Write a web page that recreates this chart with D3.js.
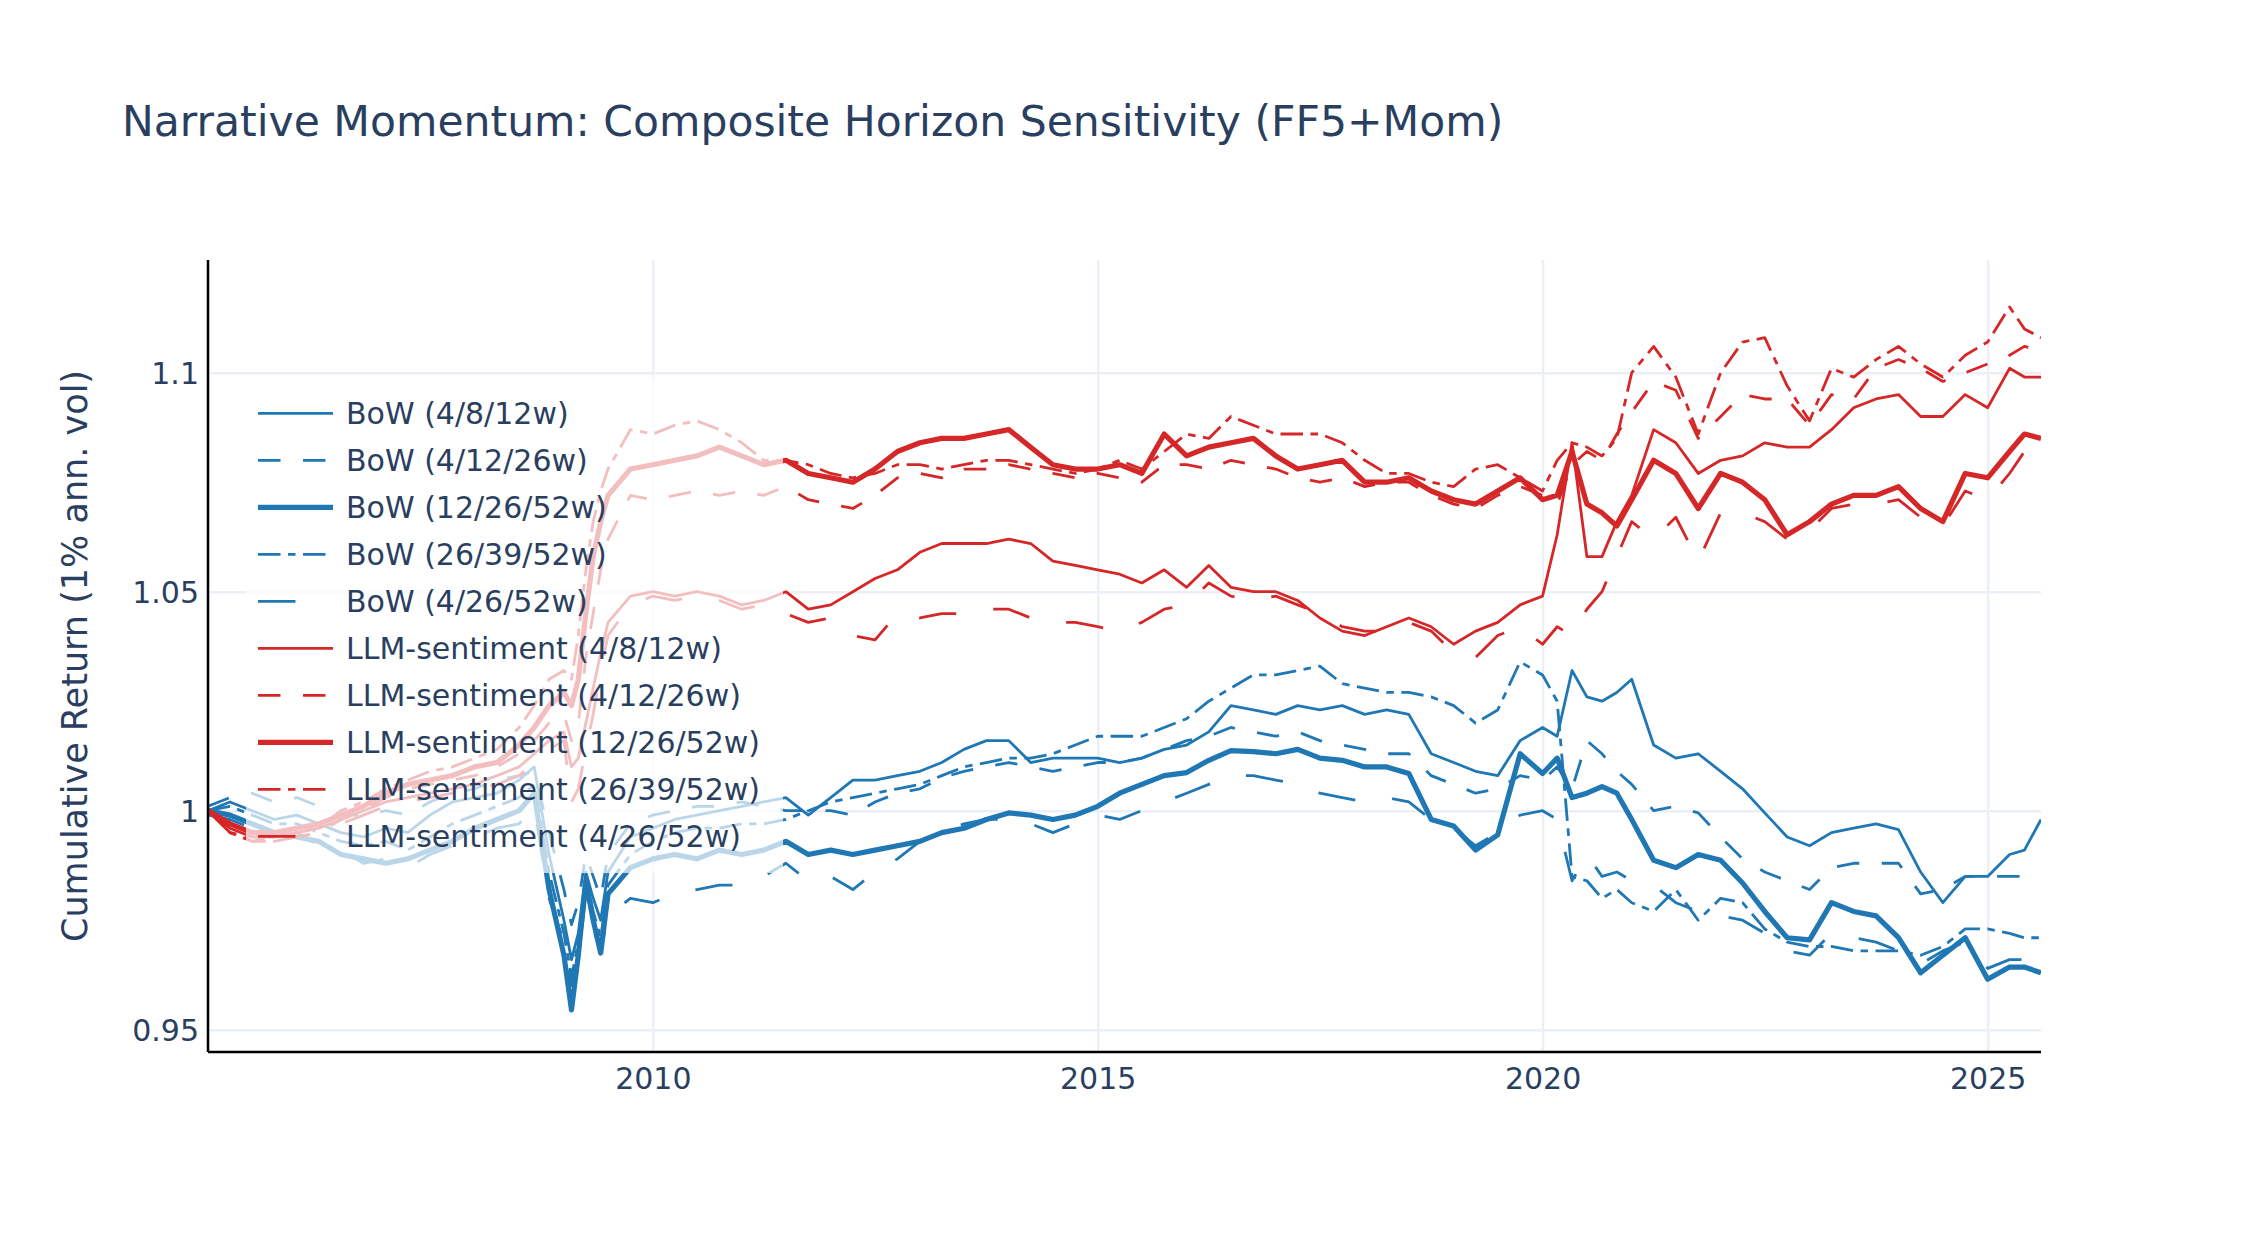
<!DOCTYPE html>
<html>
<head>
<meta charset="utf-8">
<script src="https://cdn.jsdelivr.net/npm/d3@7"></script>
<style>
  body { margin: 0; background: #fff; }
  svg { display: block; }
  text { font-family: "DejaVu Sans", Verdana, sans-serif; fill: #2a3f5f; }
</style>
</head>
<body>
<svg id="chart"></svg>
<script>
// Dates of the sampled points (roughly quarterly, denser around 2008-09 and 2020)
const dates = [
  "2005-01-01","2005-04-01","2005-07-01","2005-10-01","2006-01-01","2006-04-01","2006-07-01","2006-10-01",
  "2007-01-01","2007-04-01","2007-07-01","2007-10-01","2008-01-01","2008-04-01","2008-07-01",
  "2008-09-01","2008-11-01","2009-01-01","2009-02-01","2009-03-01","2009-04-01","2009-05-01","2009-06-01","2009-07-01","2009-10-01",
  "2010-01-01","2010-04-01","2010-07-01","2010-10-01","2011-01-01","2011-04-01","2011-07-01","2011-10-01",
  "2012-01-01","2012-04-01","2012-07-01","2012-10-01","2013-01-01","2013-04-01","2013-07-01","2013-10-01",
  "2014-01-01","2014-04-01","2014-07-01","2014-10-01",
  "2015-01-01","2015-04-01","2015-07-01","2015-10-01","2016-01-01","2016-04-01","2016-07-01","2016-10-01",
  "2017-01-01","2017-04-01","2017-07-01","2017-10-01","2018-01-01","2018-04-01","2018-07-01","2018-10-01",
  "2019-01-01","2019-04-01","2019-07-01","2019-10-01",
  "2020-01-01","2020-03-01","2020-05-01","2020-07-01","2020-09-01","2020-11-01","2021-01-01",
  "2021-04-01","2021-07-01","2021-10-01","2022-01-01","2022-04-01","2022-07-01","2022-10-01",
  "2023-01-01","2023-04-01","2023-07-01","2023-10-01","2024-01-01","2024-04-01","2024-07-01","2024-10-01",
  "2025-01-01","2025-04-01","2025-06-01","2025-08-08"
];

// BoW composites
const bow_4_8_12 = [
  1.000,1.002,1.000,0.998,0.999,0.997,0.995,0.994,0.996,0.995,0.999,1.002,1.003,1.004,1.007,
  1.010,0.990,0.975,0.966,0.972,0.986,0.980,0.975,0.986,0.994,
  0.996,0.998,0.999,1.000,1.001,1.002,1.003,0.999,
  1.003,1.007,1.007,1.008,1.009,1.011,1.014,1.016,1.016,1.011,1.012,1.012,
  1.012,1.011,1.012,1.014,1.015,1.018,1.024,1.023,1.022,1.024,1.023,1.024,1.022,1.023,1.022,1.013,1.011,1.009,1.008,1.016,
  1.019,1.017,1.032,1.026,1.025,1.027,1.030,
  1.015,1.012,1.013,1.009,1.005,0.9995,0.994,0.992,0.995,0.996,0.997,0.9957,0.986,0.979,0.985,0.985,0.990,0.991,0.998
];
const bow_4_12_26 = [
  1.001,1.003,1.004,1.002,1.003,1.001,0.999,0.999,1.000,0.999,1.002,1.004,1.005,1.007,1.008,
  1.009,0.995,0.982,0.974,0.979,0.990,0.985,0.980,0.990,0.997,
  0.999,1.000,1.001,1.001,1.002,1.001,1.000,1.000,
  1.000,0.999,1.002,1.004,1.005,1.0075,1.009,1.010,1.011,1.010,1.009,1.010,
  1.011,1.011,1.012,1.014,1.016,1.017,1.019,1.018,1.017,1.018,1.016,1.015,1.014,1.013,1.013,1.008,1.006,1.004,1.005,1.008,
  1.007,1.010,1.005,1.016,1.013,1.009,1.006,
  1.000,1.001,0.9995,0.994,0.989,0.986,0.984,0.982,0.987,0.988,0.988,0.988,0.981,0.982,0.985,0.985,0.985,0.985,0.985
];
const bow_12_26_52 = [
  1.000,0.999,0.997,0.995,0.994,0.993,0.990,0.989,0.988,0.989,0.991,0.993,0.996,0.998,1.000,
  1.004,0.982,0.967,0.9545,0.967,0.984,0.975,0.9675,0.981,0.987,
  0.989,0.990,0.989,0.991,0.990,0.991,0.993,0.990,
  0.991,0.990,0.991,0.992,0.993,0.995,0.996,0.998,0.9995,0.999,0.998,0.999,
  1.001,1.004,1.006,1.008,1.0087,1.0115,1.0137,1.0135,1.013,1.014,1.012,1.0115,1.010,1.010,1.0085,0.998,0.9965,0.991,0.9945,1.013,
  1.0085,1.012,1.003,1.004,1.0055,1.004,0.998,
  0.9887,0.987,0.990,0.9887,0.9835,0.977,0.971,0.9705,0.979,0.977,0.976,0.971,0.963,0.967,0.971,0.9615,0.9643,0.9643,0.963
];
const bow_26_39_52 = [
  1.000,1.001,0.999,0.997,0.997,0.995,0.993,0.992,0.993,0.991,0.994,0.997,0.999,1.001,1.003,
  1.006,0.986,0.972,0.962,0.970,0.985,0.977,0.971,0.983,0.990,
  0.993,0.995,0.996,0.996,0.997,0.997,0.998,1.000,
  1.002,1.003,1.004,1.005,1.006,1.008,1.010,1.011,1.012,1.012,1.013,1.015,
  1.017,1.017,1.017,1.019,1.021,1.025,1.028,1.031,1.031,1.032,1.033,1.029,1.028,1.027,1.027,1.026,1.024,1.020,1.023,1.034,
  1.031,1.025,0.985,0.984,0.980,0.982,0.979,
  0.977,0.982,0.975,0.980,0.979,0.973,0.970,0.969,0.969,0.968,0.968,0.968,0.967,0.969,0.973,0.973,0.972,0.971,0.971
];
const bow_4_26_52 = [
  0.999,0.998,0.996,0.994,0.995,0.992,0.991,0.988,0.989,0.987,0.990,0.992,0.994,0.996,0.997,
  1.001,0.980,0.970,0.960,0.966,0.981,0.973,0.968,0.976,0.980,
  0.979,0.981,0.982,0.983,0.983,0.985,0.988,0.984,
  0.985,0.982,0.986,0.989,0.993,0.995,0.997,0.998,0.998,0.997,0.995,0.997,
  0.999,0.998,1.000,1.002,1.004,1.006,1.008,1.008,1.007,1.006,1.004,1.003,1.002,1.003,1.002,0.998,0.996,0.992,0.995,0.999,
  1.000,0.998,0.984,0.990,0.985,0.986,0.984,
  0.983,0.979,0.977,0.976,0.975,0.972,0.968,0.967,0.972,0.971,0.970,0.968,0.965,0.968,0.970,0.964,0.966,0.966,0.965
];

// LLM-sentiment composites
const llm_4_8_12 = [
  1.000,0.996,0.994,0.994,0.995,0.996,0.998,1.000,1.002,1.003,1.004,1.005,1.006,1.008,1.010,
  1.013,1.016,1.018,1.010,1.012,1.020,1.028,1.036,1.043,1.049,
  1.050,1.049,1.050,1.049,1.047,1.048,1.050,1.046,
  1.047,1.050,1.053,1.055,1.059,1.061,1.061,1.061,1.062,1.061,1.057,1.056,
  1.055,1.054,1.052,1.055,1.051,1.056,1.051,1.050,1.050,1.048,1.044,1.041,1.040,1.042,1.044,1.042,1.038,1.041,1.043,1.047,
  1.049,1.063,1.084,1.058,1.058,1.066,1.072,
  1.087,1.084,1.077,1.080,1.081,1.084,1.083,1.083,1.087,1.092,1.094,1.095,1.090,1.090,1.095,1.092,1.101,1.099,1.099
];
const llm_4_12_26 = [
  1.000,0.996,0.993,0.993,0.994,0.995,0.998,1.000,1.003,1.005,1.006,1.007,1.008,1.010,1.013,
  1.016,1.020,1.022,1.016,1.020,1.035,1.045,1.055,1.062,1.072,
  1.071,1.072,1.073,1.072,1.073,1.072,1.074,1.071,
  1.070,1.069,1.072,1.076,1.077,1.076,1.078,1.078,1.079,1.078,1.077,1.076,
  1.077,1.076,1.075,1.079,1.079,1.078,1.080,1.079,1.078,1.076,1.075,1.076,1.074,1.075,1.075,1.072,1.070,1.069,1.072,1.074,
  1.072,1.070,1.079,1.082,1.080,1.086,1.091,
  1.098,1.096,1.085,1.090,1.095,1.094,1.094,1.088,1.095,1.094,1.101,1.103,1.101,1.098,1.100,1.102,1.104,1.106,1.105
];
const llm_12_26_52 = [
  1.000,0.997,0.995,0.995,0.996,0.997,0.999,1.001,1.004,1.006,1.007,1.008,1.010,1.011,1.015,
  1.019,1.024,1.027,1.024,1.030,1.045,1.058,1.066,1.072,1.078,
  1.079,1.080,1.081,1.083,1.081,1.079,1.080,1.077,
  1.076,1.075,1.078,1.082,1.084,1.085,1.085,1.086,1.087,1.083,1.079,1.078,
  1.078,1.079,1.077,1.086,1.081,1.083,1.084,1.085,1.081,1.078,1.079,1.080,1.075,1.075,1.076,1.073,1.071,1.070,1.073,1.076,
  1.071,1.072,1.082,1.070,1.068,1.065,1.071,
  1.080,1.077,1.069,1.077,1.075,1.071,1.063,1.066,1.070,1.072,1.072,1.074,1.069,1.066,1.077,1.076,1.082,1.086,1.085
];
const llm_26_39_52 = [
  1.000,0.995,0.993,0.994,0.995,0.996,1.000,1.002,1.005,1.007,1.009,1.010,1.012,1.014,1.019,
  1.024,1.030,1.032,1.030,1.040,1.055,1.066,1.073,1.078,1.087,
  1.086,1.088,1.089,1.087,1.084,1.080,1.080,1.079,
  1.077,1.076,1.077,1.079,1.079,1.078,1.079,1.080,1.080,1.079,1.078,1.077,
  1.078,1.080,1.078,1.082,1.086,1.085,1.090,1.088,1.086,1.086,1.086,1.084,1.080,1.077,1.077,1.075,1.074,1.078,1.079,1.076,
  1.073,1.080,1.084,1.083,1.081,1.085,1.100,
  1.106,1.099,1.086,1.100,1.107,1.108,1.097,1.089,1.101,1.099,1.103,1.106,1.102,1.099,1.104,1.107,1.115,1.110,1.108
];
const llm_4_26_52 = [
  1.000,0.995,0.994,0.993,0.994,0.995,0.997,0.999,1.001,1.002,1.003,1.004,1.005,1.006,1.008,
  1.011,1.014,1.016,1.002,1.005,1.014,1.022,1.032,1.040,1.047,
  1.049,1.048,1.049,1.048,1.046,1.047,1.045,1.043,
  1.044,1.040,1.039,1.045,1.044,1.045,1.045,1.046,1.046,1.044,1.043,1.043,
  1.042,1.041,1.043,1.046,1.047,1.052,1.049,1.048,1.049,1.047,1.045,1.042,1.041,1.041,1.043,1.041,1.036,1.035,1.040,1.042,
  1.038,1.042,1.040,1.046,1.050,1.058,1.066,
  1.062,1.067,1.057,1.068,1.068,1.066,1.062,1.064,1.069,1.070,1.070,1.071,1.067,1.065,1.073,1.071,1.077,1.082,1.084
];

const seriesNames = [
  "BoW (4/8/12w)", "BoW (4/12/26w)", "BoW (12/26/52w)", "BoW (26/39/52w)", "BoW (4/26/52w)",
  "LLM-sentiment (4/8/12w)", "LLM-sentiment (4/12/26w)", "LLM-sentiment (12/26/52w)",
  "LLM-sentiment (26/39/52w)", "LLM-sentiment (4/26/52w)"
];
const seriesValues = [
  bow_4_8_12, bow_4_12_26, bow_12_26_52, bow_26_39_52, bow_4_26_52,
  llm_4_8_12, llm_4_12_26, llm_12_26_52, llm_26_39_52, llm_4_26_52
];
const yTickValues = [0.95, 1, 1.05, 1.1];
const xTickYears = ["2010", "2015", "2020", "2025"];

// line styles: solid, dash, thick solid, dashdot, longdash
const dashStyles = [null, "22.5,22.5", null, "22.5,7.5,7.5,7.5", "37.5,37.5"];
const widths = [2.8, 2.8, 5.2, 2.8, 2.8];
const BLUE = "#1f77b4", RED = "#d62728";

const W = 2250, H = 1250;
const margin = { top: 260, right: 209, bottom: 198, left: 208 };
const width = W - margin.left - margin.right;
const height = H - margin.top - margin.bottom;

const parseDate = d3.timeParse("%Y-%m-%d");
const dateObjs = dates.map(parseDate);

const svg = d3.select("#chart").attr("width", W).attr("height", H);
svg.append("rect").attr("width", W).attr("height", H).attr("fill", "#fff");

// Title
svg.append("text")
  .attr("x", 122).attr("y", 136)
  .attr("font-size", "42.5px")
  .text("Narrative Momentum: Composite Horizon Sensitivity (FF5+Mom)");

const g = svg.append("g").attr("transform", `translate(${margin.left}, ${margin.top})`);

// Scales
const xScale = d3.scaleTime()
  .domain([dateObjs[0], dateObjs[dateObjs.length - 1]])
  .range([0, width]);
const yScale = d3.scaleLinear()
  .domain([0.94491, 1.12573])
  .range([height, 0]);

// Gridlines
const xTickDates = xTickYears.map(y => parseDate(y + "-01-01"));
const xGrid = g.append("g")
  .attr("transform", `translate(0, ${height})`)
  .call(d3.axisBottom(xScale).tickValues(xTickDates).tickSize(-height).tickFormat(""));
xGrid.select(".domain").remove();
xGrid.selectAll("line").attr("stroke", "#ebf0f8").attr("stroke-width", 2.5);

const yGrid = g.append("g")
  .call(d3.axisLeft(yScale).tickValues(yTickValues).tickSize(-width).tickFormat(""));
yGrid.select(".domain").remove();
yGrid.selectAll("line").attr("stroke", "#ebf0f8").attr("stroke-width", 2.5);

// Clip
svg.append("defs").append("clipPath").attr("id", "plotClip")
  .append("rect").attr("width", width).attr("height", height);

const line = d3.line()
  .x(d => xScale(d.date))
  .y(d => yScale(d.value));

const traces = seriesNames.map((name, i) => ({
  name: name,
  color: i < 5 ? BLUE : RED,
  width: widths[i % 5],
  dash: dashStyles[i % 5],
  points: seriesValues[i].map((v, j) => ({ date: dateObjs[j], value: v }))
}));

const linesG = g.append("g").attr("clip-path", "url(#plotClip)");
linesG.selectAll("path")
  .data(traces)
  .enter()
  .append("path")
  .attr("d", d => line(d.points))
  .attr("fill", "none")
  .attr("stroke", d => d.color)
  .attr("stroke-width", d => d.width)
  .attr("stroke-dasharray", d => d.dash)
  .attr("stroke-linejoin", "round");

// Axis lines
g.append("line").attr("x1", 0).attr("x2", 0).attr("y1", 0).attr("y2", height)
  .attr("stroke", "#000").attr("stroke-width", 2.5);
g.append("line").attr("x1", 0).attr("x2", width).attr("y1", height).attr("y2", height)
  .attr("stroke", "#000").attr("stroke-width", 2.5);

// Tick labels
const yAxis = g.append("g")
  .call(d3.axisLeft(yScale).tickValues(yTickValues).tickSize(0).tickPadding(9).tickFormat(d3.format("~g")));
yAxis.select(".domain").remove();
yAxis.attr("font-family", null);
yAxis.selectAll("text")
  .attr("font-size", "30px").attr("fill", "#2a3f5f").attr("dy", "0.36em");

const xAxis = g.append("g")
  .attr("transform", `translate(0, ${height})`)
  .call(d3.axisBottom(xScale).tickValues(xTickDates).tickSize(0).tickPadding(16).tickFormat(d3.timeFormat("%Y")));
xAxis.select(".domain").remove();
xAxis.attr("font-family", null);
xAxis.selectAll("text")
  .attr("font-size", "30px").attr("fill", "#2a3f5f");

// Y-axis title
svg.append("text")
  .attr("transform", `translate(87, ${margin.top + height / 2}) rotate(-90)`)
  .attr("text-anchor", "middle")
  .attr("font-size", "35px")
  .text("Cumulative Return (1% ann. vol)");

// Legend
const legend = svg.append("g").attr("transform", "translate(246, 377)");
legend.append("rect")
  .attr("width", 537).attr("height", 496)
  .attr("fill", "#fff").attr("fill-opacity", 0.7);

const items = legend.selectAll("g.item")
  .data(traces)
  .enter()
  .append("g")
  .attr("class", "item")
  .attr("transform", (d, i) => `translate(0, ${36.3 + i * 47})`);

items.append("line")
  .attr("x1", 12).attr("x2", 87)
  .attr("stroke", d => d.color)
  .attr("stroke-width", d => d.width)
  .attr("stroke-dasharray", d => d.dash);

items.append("text")
  .attr("x", 100).attr("y", 11)
  .attr("font-size", "30px")
  .text(d => d.name);
</script>
</body>
</html>
